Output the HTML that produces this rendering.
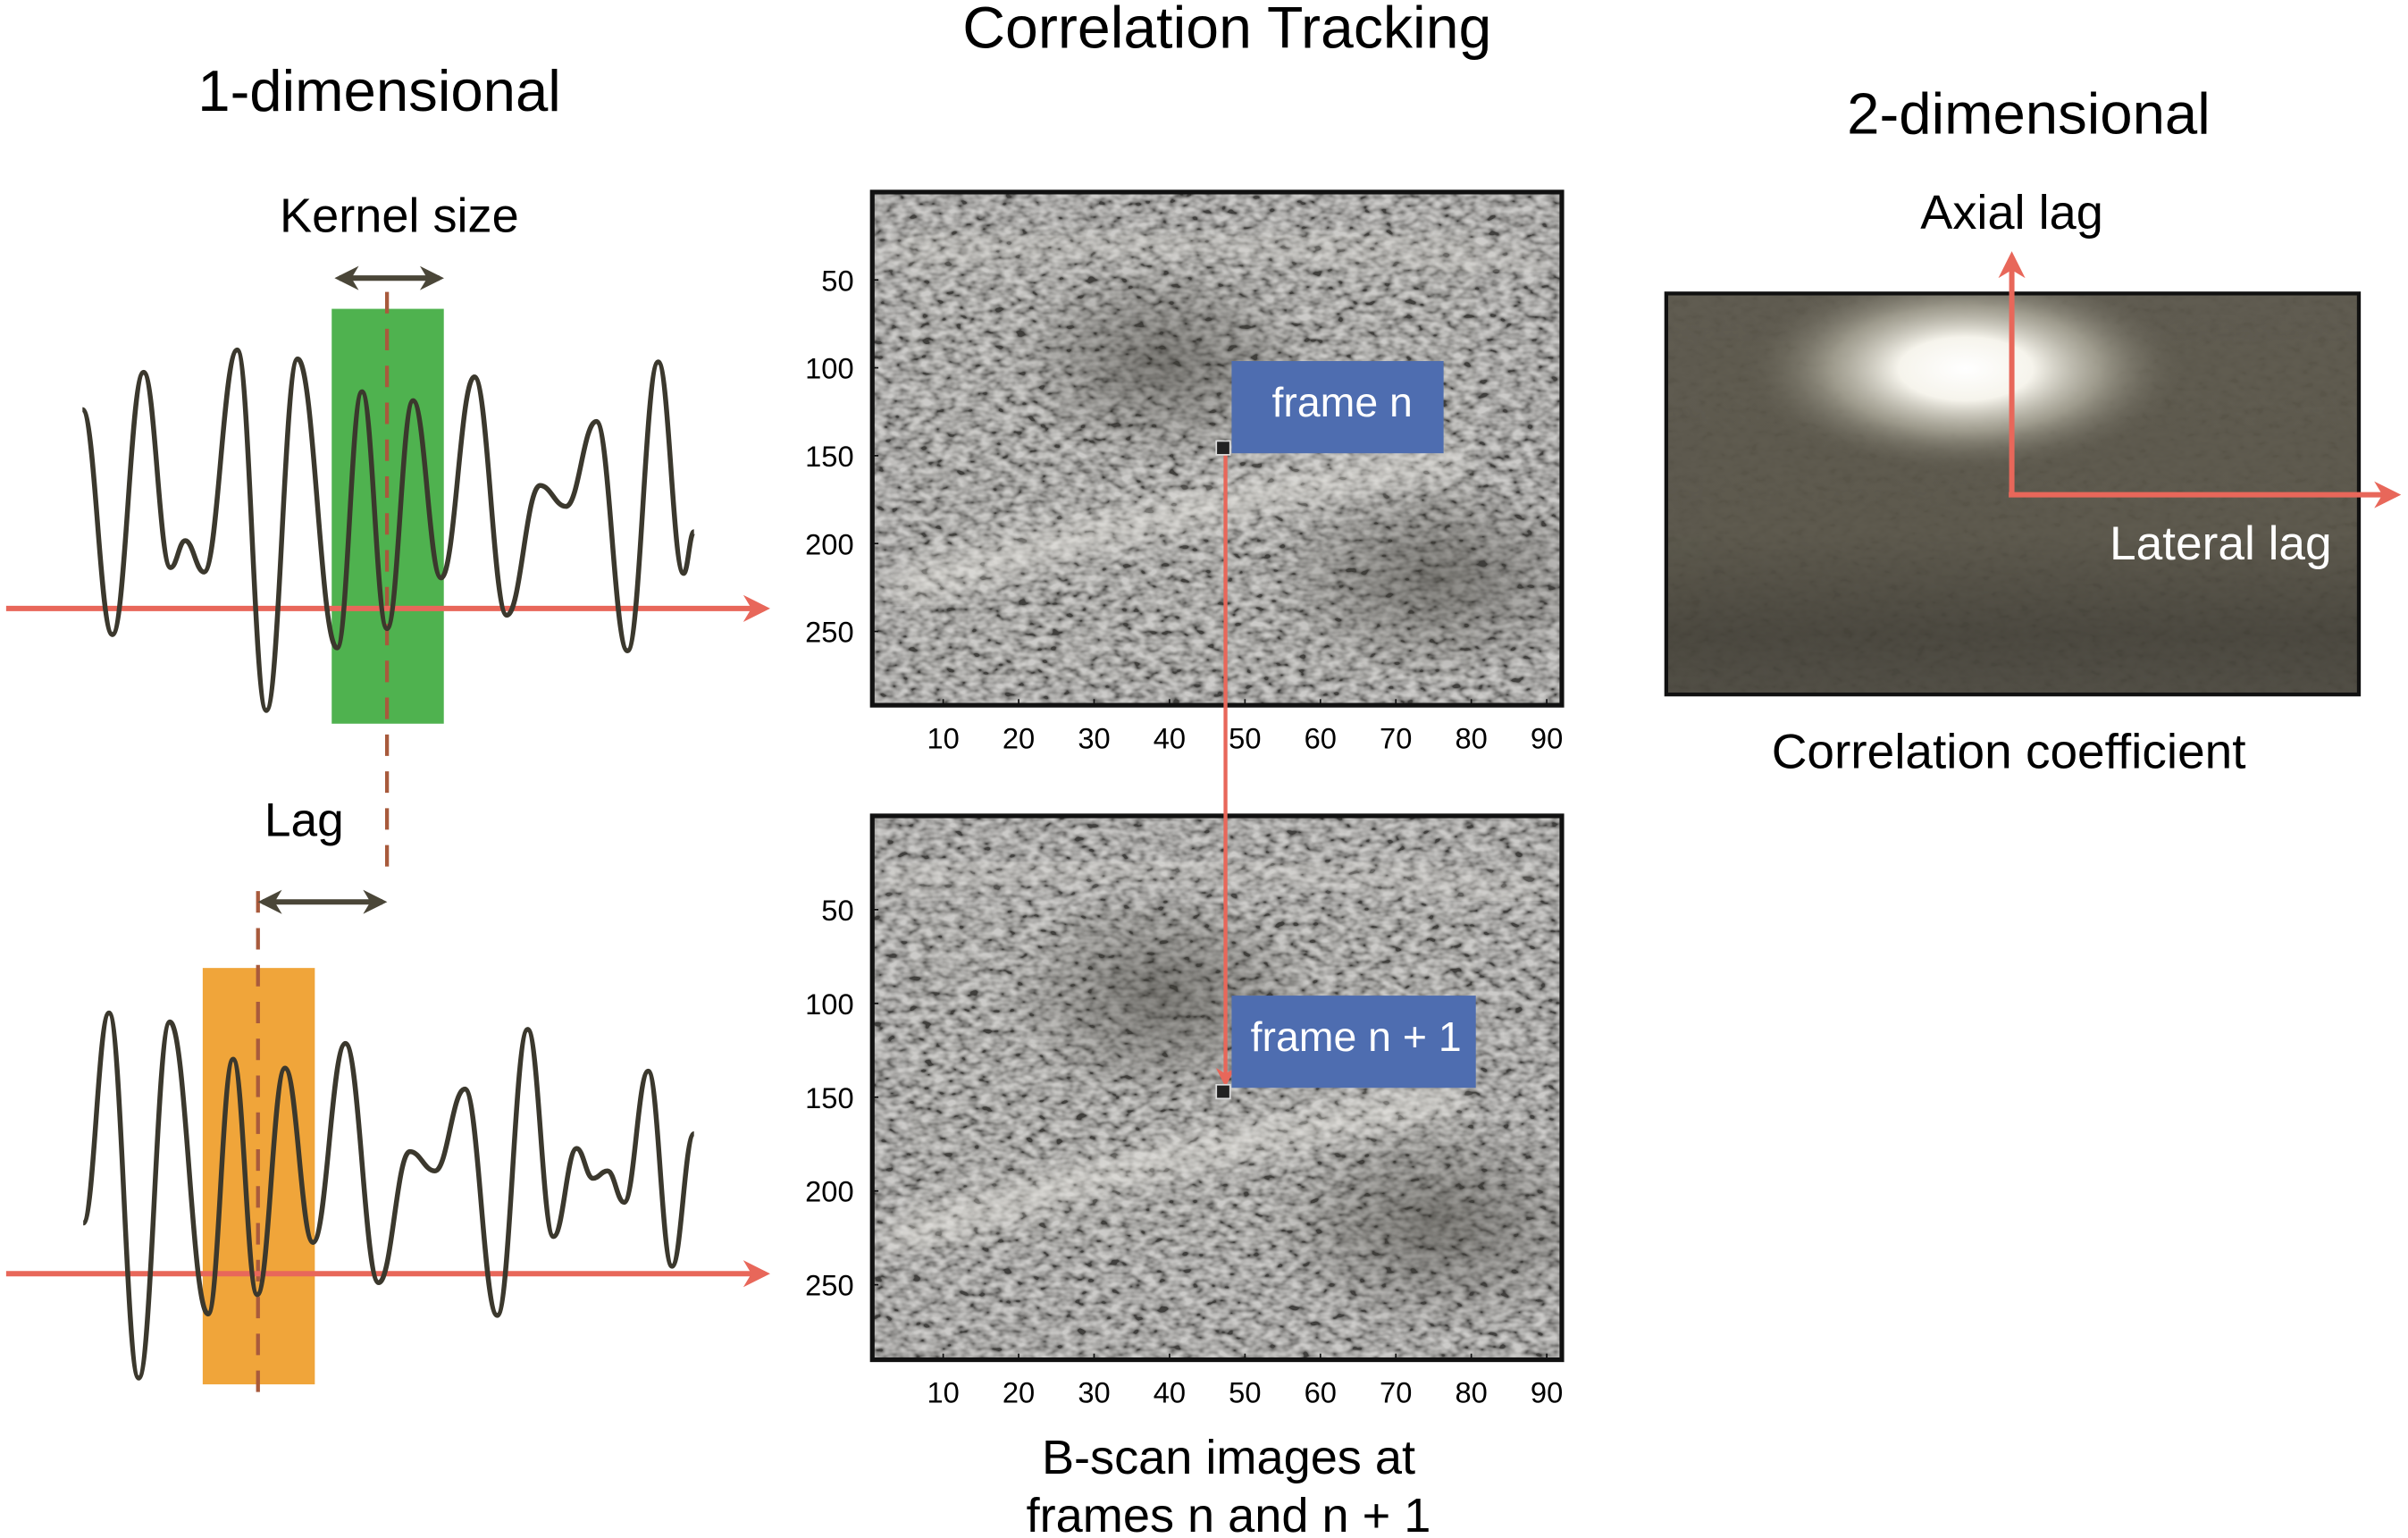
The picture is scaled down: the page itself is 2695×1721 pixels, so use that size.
<!DOCTYPE html>
<html><head><meta charset="utf-8"><style>
html,body{margin:0;padding:0;background:#fff;}
svg{display:block;font-family:"Liberation Sans",Arial,sans-serif;}
</style></head><body>
<svg id="root" width="2695" height="1721" viewBox="0 0 1568 1001" preserveAspectRatio="none" xmlns="http://www.w3.org/2000/svg">
<defs>
<filter id="speckle" x="0" y="0" width="100%" height="100%">
<feTurbulence type="fractalNoise" baseFrequency="0.13 0.2" numOctaves="2" seed="7"/>
<feColorMatrix type="matrix" values="2 0 0 0 -0.5  2 0 0 0 -0.5  2 0 0 0 -0.5  0 0 0 0 1"/>
</filter>
<filter id="blur6"><feGaussianBlur stdDeviation="8"/></filter>
<clipPath id="clip1"><rect x="568" y="125" width="449" height="334"/></clipPath>
<clipPath id="clip2"><rect x="568" y="531" width="449" height="354"/></clipPath>
<clipPath id="clip3"><rect x="1085" y="191" width="451" height="261"/></clipPath>
<radialGradient id="glow" cx="0.5" cy="0.5" r="0.5">
<stop offset="0" stop-color="#ffffff"/><stop offset="0.3" stop-color="#f6f4ec"/><stop offset="0.6" stop-color="#b9b6a7" stop-opacity="0.7"/><stop offset="1" stop-color="#5e5a4e" stop-opacity="0"/>
</radialGradient>
<linearGradient id="bg2d" x1="0" y1="0" x2="0" y2="1">
<stop offset="0" stop-color="#5d594d"/><stop offset="0.6" stop-color="#5a564a"/><stop offset="0.85" stop-color="#48453c"/><stop offset="1" stop-color="#4e4b42"/>
</linearGradient>
<radialGradient id="darkblob" cx="0.5" cy="0.5" r="0.5">
<stop offset="0" stop-color="#3c3a34" stop-opacity="0.5"/><stop offset="1" stop-color="#3c3a34" stop-opacity="0"/>
</radialGradient>
<marker id="redHead" viewBox="0 0 10 10" refX="8" refY="5" markerWidth="5" markerHeight="5" orient="auto-start-reverse"><path d="M0,0 L10,5 L0,10 L3,5 z" fill="#e8675a"/></marker>
<marker id="darkHead" viewBox="0 0 10 10" refX="8" refY="5" markerWidth="4.5" markerHeight="4.5" orient="auto-start-reverse"><path d="M0,0 L10,5 L0,10 L3,5 z" fill="#4a4638"/></marker>
</defs>

<text x="247" y="72" font-size="38" text-anchor="middle">1-dimensional</text>
<text x="799" y="31" font-size="38.5" text-anchor="middle">Correlation Tracking</text>
<text x="1321" y="87" font-size="38" text-anchor="middle">2-dimensional</text>

<text x="260" y="151" font-size="31.5" text-anchor="middle">Kernel size</text>
<line x1="221" y1="181" x2="286" y2="181" stroke="#4a4638" stroke-width="3.5" marker-start="url(#darkHead)" marker-end="url(#darkHead)"/>
<rect x="216" y="201" width="73" height="270" fill="#4fb24f"/>
<rect x="132" y="630" width="73" height="271" fill="#f0a53a"/>
<line x1="252" y1="190" x2="252" y2="566" stroke="#a85a3c" stroke-width="2.5" stroke-dasharray="14,10"/>
<line x1="168" y1="580" x2="168" y2="906" stroke="#a85a3c" stroke-width="2.5" stroke-dasharray="14,10"/>
<text x="198" y="544" font-size="31" text-anchor="middle">Lag</text>
<line x1="171" y1="587" x2="249" y2="587" stroke="#4a4638" stroke-width="3.5" marker-start="url(#darkHead)" marker-end="url(#darkHead)"/>
<line x1="4" y1="396" x2="498" y2="396" stroke="#e8675a" stroke-width="3.5" marker-end="url(#redHead)"/>
<line x1="4" y1="829" x2="498" y2="829" stroke="#e8675a" stroke-width="3.5" marker-end="url(#redHead)"/>
<g id="waves"></g>

<g id="bscans"></g>
<line x1="798" y1="296" x2="798" y2="705" stroke="#e8675a" stroke-width="2.5" marker-end="url(#redHead)"/>
<rect x="802" y="235" width="138" height="60" fill="#4e6db0"/>
<text x="874" y="271" font-size="27" fill="#fff" text-anchor="middle">frame n</text>
<rect x="802" y="648" width="159" height="60" fill="#4e6db0"/>
<text x="883" y="684" font-size="27" fill="#fff" text-anchor="middle">frame n + 1</text>
<rect x="792" y="287" width="9" height="9" fill="#222" stroke="#ddd" stroke-width="1"/>
<rect x="792" y="706" width="9" height="9" fill="#222" stroke="#ddd" stroke-width="1"/>
<text x="800" y="959" font-size="31.5" text-anchor="middle">B-scan images at</text>
<text x="800" y="997" font-size="31.5" text-anchor="middle">frames n and n + 1</text>

<g>
<g clip-path="url(#clip3)">
<rect x="1085" y="191" width="451" height="261" fill="url(#bg2d)"/>
<rect x="1085" y="191" width="451" height="261" filter="url(#speckle)" opacity="0.025"/>
<ellipse cx="1280" cy="240" rx="145" ry="68" fill="url(#glow)"/>
</g>
<rect x="1085" y="191" width="451" height="261" fill="none" stroke="#111" stroke-width="2.5"/>
</g>
<line x1="1310" y1="322" x2="1310" y2="167" stroke="#e8675a" stroke-width="3.5" marker-end="url(#redHead)"/>
<line x1="1308" y1="322" x2="1560" y2="322" stroke="#e8675a" stroke-width="3.5" marker-end="url(#redHead)"/>
<text x="1310" y="149" font-size="31.5" text-anchor="middle">Axial lag</text>
<text x="1446" y="364" font-size="31" fill="#fff" text-anchor="middle">Lateral lag</text>
<text x="1308" y="500" font-size="32" text-anchor="middle">Correlation coefficient</text>
</svg>
<script>
const wave1X = [53.7,73.2,93.5,111.1,120.6,132.8,154.5,173.4,193.8,219.5,235.7,252,269,287.2,308.9,330,351.7,368.5,388.3,408.6,428.6,445.1,451.9];
const wave1Y = [266.6,413,242.3,369.4,351.9,372.3,227.8,462.4,233.6,421.7,255,409.1,260.8,376.1,245.3,400.4,316,329.6,274.3,423.6,235.6,373.2,346.1];
const wave2X = [54.2,71.0,90.3,110.6,135.5,151.8,167.5,185.6,203.8,224.9,246.6,266.9,283.2,302.7,323.8,343.6,360.4,375.5,386.1,395.6,406.4,422.1,437.6,451.9];
const wave2Y = [796,659.3,896.9,665.1,855.2,689.4,842.6,695.2,808.6,679.1,834.8,749.5,762.1,708.8,856.1,670,804.8,747.5,766.9,762.1,782.5,697.2,824.1,737.9];
const yTicks1 = [50,100,150,200,250];
const yTicks2 = [50,100,150,200,250];
const xTicks = [10,20,30,40,50,60,70,80,90];

const NS='http://www.w3.org/2000/svg';
function mk(tag,attrs,parent){const e=document.createElementNS(NS,tag);for(const k in attrs)e.setAttribute(k,attrs[k]);parent.appendChild(e);return e;}
function wavePath(xs,ys){
  let d='M'+xs[0]+','+ys[0];
  for(let i=1;i<xs.length;i++){const dx=xs[i]-xs[i-1];
    d+=' C'+(xs[i-1]+0.42*dx)+','+ys[i-1]+' '+(xs[i]-0.42*dx)+','+ys[i]+' '+xs[i]+','+ys[i];}
  return d;
}
const wg=document.getElementById('waves');
const w1=mk('path',{d:wavePath(wave1X,wave1Y),fill:'none',stroke:'#3b382d','stroke-width':3.2,'stroke-linejoin':'round'},wg);


const w2=mk('path',{d:wavePath(wave2X,wave2Y),fill:'none',stroke:'#3b382d','stroke-width':3.2,'stroke-linejoin':'round'},wg);



const bg=document.getElementById('bscans');
function bscan(name,clip,x0,y0,w,h,yTickVals,yMax,xlabY){
  const g=mk('g',{},bg);
  
  
  const c=mk('g',{'clip-path':'url(#'+clip+')'},g);
  mk('rect',{x:x0,y:y0,width:w,height:h,fill:'#8f8d87'},c);
  mk('rect',{x:x0,y:y0,width:w,height:h,filter:'url(#speckle)',opacity:0.55},c);
  mk('ellipse',{cx:x0+0.42*w,cy:y0+0.33*h,rx:0.22*w,ry:0.2*h,fill:'url(#darkblob)'},c);
  mk('ellipse',{cx:x0+0.82*w,cy:y0+0.75*h,rx:0.25*w,ry:0.2*h,fill:'url(#darkblob)'},c);
  mk('path',{d:'M'+(x0+10)+','+(y0+0.78*h)+' Q'+(x0+0.4*w)+','+(y0+0.62*h)+' '+(x0+0.85*w)+','+(y0+0.52*h),stroke:'#f0eee8','stroke-width':18,fill:'none',opacity:0.5,filter:'url(#blur6)'},c);
  mk('path',{d:'M'+(x0+10)+','+(y0+0.12*h)+' Q'+(x0+0.5*w)+','+(y0+0.05*h)+' '+(x0+w-10)+','+(y0+0.15*h),stroke:'#e0ded8','stroke-width':14,fill:'none',opacity:0.4,filter:'url(#blur6)'},c);
  mk('rect',{x:x0,y:y0,width:w,height:h,fill:'none',stroke:'#111','stroke-width':3},g);
  yTickVals.forEach(v=>{const yy=y0+v/yMax*h;
    const t=mk('text',{x:x0-12,y:yy+7,'font-size':19,'text-anchor':'end'},g);t.textContent=v;
    
    
    mk('line',{x1:x0,x2:x0+4,y1:yy,y2:yy,stroke:'#111','stroke-width':1},g);});
  xTicks.forEach(v=>{const xx=x0+(v-0.6)/91.4*w;
    const t=mk('text',{x:xx,y:xlabY,'font-size':19,'text-anchor':'middle'},g);t.textContent=v;
    
    
    mk('line',{x1:xx,x2:xx,y1:y0+h,y2:y0+h-4,stroke:'#111','stroke-width':1},g);});
}
bscan('bscan-frame-n','clip1',568,125,449,334,yTicks1,292,487);
bscan('bscan-frame-n1','clip2',568,531,449,354,yTicks2,290,913);
</script>
</body></html>
